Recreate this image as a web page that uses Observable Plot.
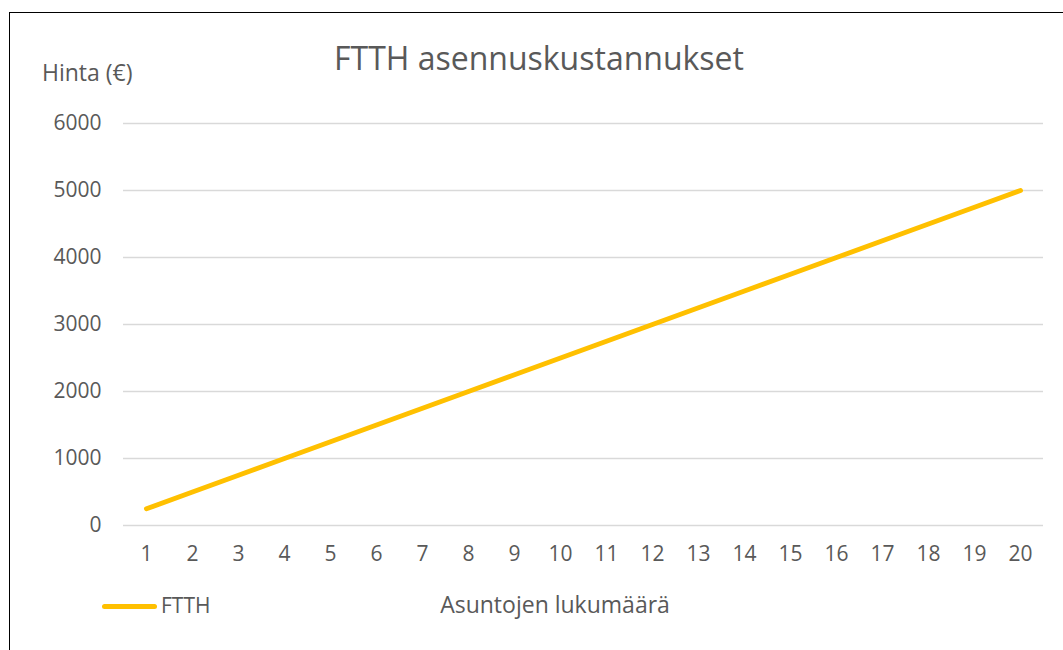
<!DOCTYPE html>
<html>
<head>
<meta charset="utf-8">
<script src="https://cdn.jsdelivr.net/npm/d3@7"></script>
<script src="https://cdn.jsdelivr.net/npm/@observablehq/plot@0.6"></script>
<style>
  body { margin: 0; background: #fff; }
  #wrap { position: relative; width: 1063px; height: 650px; font-family: "Open Sans", sans-serif; color: #595959; overflow: hidden; }
  #frame { position: absolute; left: 9px; top: 12px; width: 1100px; height: 700px; border-left: 1.5px solid #000; border-top: 1.5px solid #000; }
  .lbl { position: absolute; white-space: nowrap; line-height: 1; }
  svg { position: absolute; left: 0; top: 0; }
  #chart svg text { font-size: 21px !important; font-family: "Open Sans", sans-serif; }
</style>
</head>
<body>
<div id="wrap">
  <div id="frame"></div>
  <div id="chart"></div>
  <div class="lbl" id="title" style="left:0;width:1078px;text-align:center;top:42px;font-size:32px;">FTTH asennuskustannukset</div>
  <div class="lbl" id="ylab" style="left:42px;top:61px;font-size:23px;">Hinta (€)</div>
  <div class="lbl" id="xlab" style="left:0;width:1110px;text-align:center;top:593px;font-size:23px;">Asuntojen lukumäärä</div>
  <div style="position:absolute;left:102px;top:604px;width:55px;height:5px;border-radius:3px;background:#FFC000;"></div>
  <div class="lbl" id="leg" style="left:161px;top:595px;font-size:21px;">FTTH</div>
</div>
<script>
const asunnot = [1,2,3,4,5,6,7,8,9,10,11,12,13,14,15,16,17,18,19,20];
const hinta = [250,500,750,1000,1250,1500,1750,2000,2250,2500,2750,3000,3250,3500,3750,4000,4250,4500,4750,5000];
const yTicks = [0,1000,2000,3000,4000,5000,6000];
const data = asunnot.map((a, i) => ({a, h: hinta[i]}));

const chart = Plot.plot({
  width: 1063,
  height: 650,
  marginLeft: 123,
  marginRight: 20,
  marginTop: 123,
  marginBottom: 125,
  style: {fontFamily: '"Open Sans", sans-serif', fontSize: "21px", color: "#595959", background: "transparent"},
  x: {type: "point", domain: asunnot, padding: 0.5, label: null},
  y: {domain: [0, 6000], label: null},
  marks: [
    Plot.gridY(yTicks, {stroke: "#d9d9d9", strokeOpacity: 1, strokeWidth: 1.5}),
    Plot.axisY(yTicks, {tickSize: 0, tickPadding: 22, label: null, fill: "#595959", fontSize: 21, tickFormat: d => String(d)}),
    Plot.axisX(asunnot, {tickSize: 0, tickPadding: 21, label: null, fill: "#595959", fontSize: 21, tickFormat: d => String(d)}),
    Plot.line(data, {x: "a", y: "h", stroke: "#FFC000", strokeWidth: 5, strokeLinecap: "round", strokeLinejoin: "round"})
  ]
});
document.getElementById("chart").appendChild(chart);
</script>
</body>
</html>
